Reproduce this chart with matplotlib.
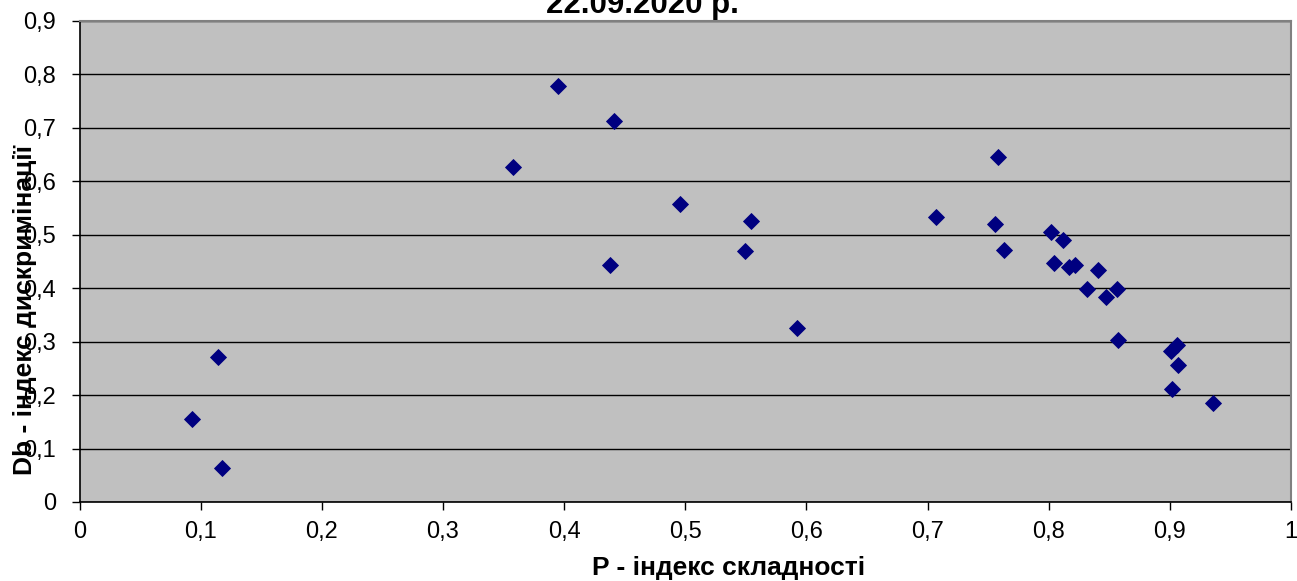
import matplotlib
matplotlib.use("Agg")
import matplotlib.pyplot as plt
from matplotlib.ticker import FuncFormatter, MultipleLocator

plt.rcParams['font.family'] = ['Liberation Sans', 'DejaVu Sans']

# P - difficulty index, Db - discrimination index
p_index = [0.093, 0.114, 0.118, 0.358, 0.395, 0.441, 0.438, 0.496, 0.554, 0.549,
           0.592, 0.707, 0.756, 0.758, 0.763, 0.802, 0.812, 0.804, 0.817, 0.822,
           0.841, 0.832, 0.847, 0.856, 0.857, 0.901, 0.906, 0.907, 0.902, 0.936]
db_index = [0.155, 0.271, 0.064, 0.626, 0.778, 0.713, 0.443, 0.558, 0.525, 0.469,
            0.326, 0.533, 0.520, 0.645, 0.472, 0.504, 0.490, 0.446, 0.439, 0.443,
            0.433, 0.398, 0.384, 0.398, 0.303, 0.283, 0.294, 0.257, 0.212, 0.185]

title_text = "22.09.2020 р."
x_label = "P - індекс складності"
y_label = "Db - індекс дискримінації"

fig = plt.figure(figsize=(12.97, 5.81), dpi=100)
ax = fig.add_axes([79.5/1297, 1 - 502/581, (1291 - 79.5)/1297, (502 - 20.7)/581])
ax.set_facecolor('#C0C0C0')

ax.plot(p_index, db_index, linestyle='none', marker='D', markersize=8.2,
        markerfacecolor='#000080', markeredgecolor='#000080', markeredgewidth=0.6,
        zorder=3)

ax.set_xlim(0, 1)
ax.set_ylim(0, 0.9)
ax.xaxis.set_major_locator(MultipleLocator(0.1))
ax.yaxis.set_major_locator(MultipleLocator(0.1))
fmt = FuncFormatter(lambda v, pos: ('%g' % round(v, 1)).replace('.', ','))
ax.xaxis.set_major_formatter(fmt)
ax.yaxis.set_major_formatter(fmt)
ax.yaxis.grid(True, color='black', linewidth=1)
ax.set_axisbelow(True)
ax.tick_params(axis='both', direction='out', length=6, width=1, color='black',
               labelsize=17)
ax.tick_params(axis='x', pad=7.5)
ax.tick_params(axis='y', pad=11)

for s in ['left', 'bottom']:
    ax.spines[s].set_color('black')
    ax.spines[s].set_linewidth(1.2)
for s in ['right', 'top']:
    ax.spines[s].set_color('#808080')
    ax.spines[s].set_linewidth(1.5)

fig.text(729/1297, 1 - 568/581, x_label, ha='center', va='center',
         fontsize=19, fontweight='bold')
fig.text(25/1297, 1 - 310/581, y_label, rotation=90, ha='center', va='center',
         fontsize=19, fontweight='bold')
fig.text(642/1297, 1 - 12.7/581, title_text, ha='center', va='baseline',
         fontsize=22.5, fontweight='bold')

fig.savefig('out.png', dpi=100, facecolor='white')
